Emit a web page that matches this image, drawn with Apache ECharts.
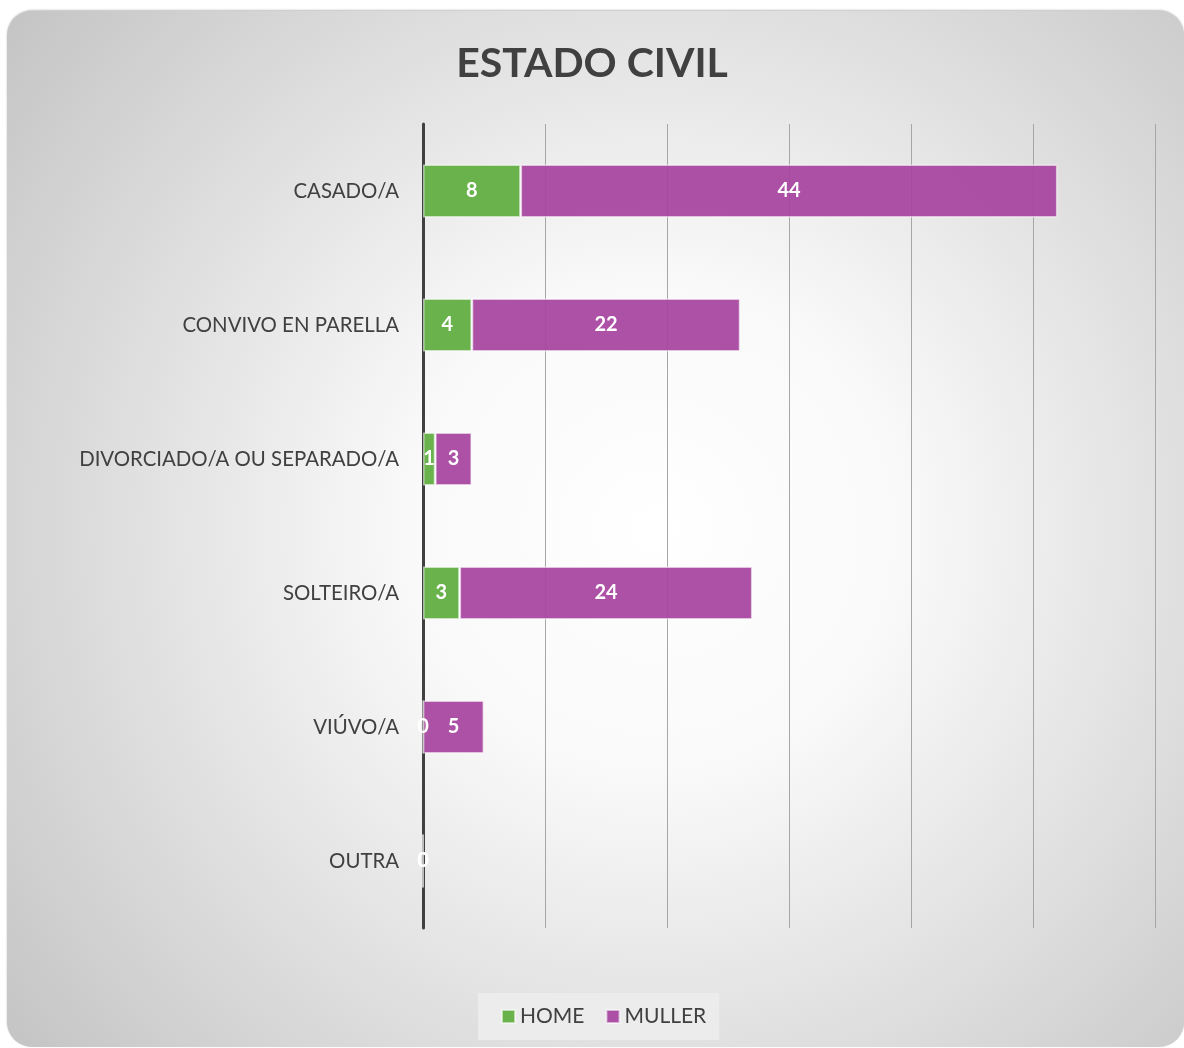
<!DOCTYPE html>
<html>
<head>
<meta charset="utf-8">
<script src="https://cdn.jsdelivr.net/npm/echarts@6/dist/echarts.min.js"></script>
<style>
html,body{margin:0;padding:0;background:#fff;}
#chart{width:1184px;height:1048px;}
</style>
</head>
<body>
<div id="chart"></div>
<script>
var categories = ['CASADO/A', 'CONVIVO EN PARELLA', 'DIVORCIADO/A OU SEPARADO/A', 'SOLTEIRO/A', 'VIÚVO/A', 'OUTRA'];
var homeValues = [8, 4, 1, 3, 0, 0];
var mullerValues = [44, 22, 3, 24, 5, 0];

var labelStyle = {
    show: true,
    position: 'inside',
    color: '#fff',
    fontFamily: 'Lato',
    fontWeight: 'bold',
    fontSize: 20
};

var chart = echarts.init(document.getElementById('chart'));
var option = {
    backgroundColor: '#fff',
    textStyle: { fontFamily: 'Lato' },
    graphic: [{
        type: 'rect',
        z: -10,
        silent: true,
        shape: { x: 7, y: 11, width: 1177, height: 1036, r: 25 },
        style: {
            fill: new echarts.graphic.RadialGradient(0.55, 0.5, 0.8, [
                { offset: 0, color: '#ffffff' },
                { offset: 0.3, color: '#f9f9f9' },
                { offset: 1, color: '#c4c4c4' }
            ]),
            shadowBlur: 2,
            shadowColor: 'rgba(0,0,0,0.25)',
            shadowOffsetY: -1
        }
    }],
    title: {
        text: 'ESTADO CIVIL',
        left: 'center',
        top: 38,
        textStyle: {
            fontFamily: 'Lato',
            fontWeight: 'bold',
            fontSize: 41,
            color: '#404040'
        }
    },
    legend: {
        data: ['HOME', 'MULLER'],
        bottom: 8,
        left: 478,
        icon: 'rect',
        itemWidth: 13,
        itemHeight: 13,
        itemGap: 21,
        padding: [13, 13, 13, 23],
        backgroundColor: '#ececec',
        textStyle: { color: '#404040', fontSize: 21, fontFamily: 'Lato' }
    },
    grid: {
        left: 423,
        right: 29,
        top: 124,
        bottom: 120,
        containLabel: false
    },
    xAxis: {
        type: 'value',
        min: 0,
        max: 60,
        interval: 10,
        axisLine: { show: false },
        axisTick: { show: false },
        axisLabel: { show: false },
        splitLine: { show: true, lineStyle: { color: '#a6a6a6', width: 1 } }
    },
    yAxis: {
        type: 'category',
        inverse: true,
        data: categories,
        axisLine: { show: true, lineStyle: { color: '#404040', width: 3 } },
        axisTick: { show: false },
        axisLabel: { color: '#404040', fontSize: 20.4, margin: 24, fontFamily: 'Lato' }
    },
    series: [
        {
            name: 'HOME',
            type: 'bar',
            stack: 'total',
            barWidth: 53,
            data: homeValues,
            label: labelStyle,
            itemStyle: {
                color: '#6ab24c',
                borderColor: 'rgba(255,255,255,0.55)',
                borderWidth: 1.5
            }
        },
        {
            name: 'MULLER',
            type: 'bar',
            stack: 'total',
            barWidth: 53,
            data: mullerValues,
            label: labelStyle,
            itemStyle: {
                color: 'rgba(166,68,158,0.93)',
                borderColor: 'rgba(255,255,255,0.55)',
                borderWidth: 1.5
            }
        }
    ]
};
chart.setOption(option);
</script>
</body>
</html>
